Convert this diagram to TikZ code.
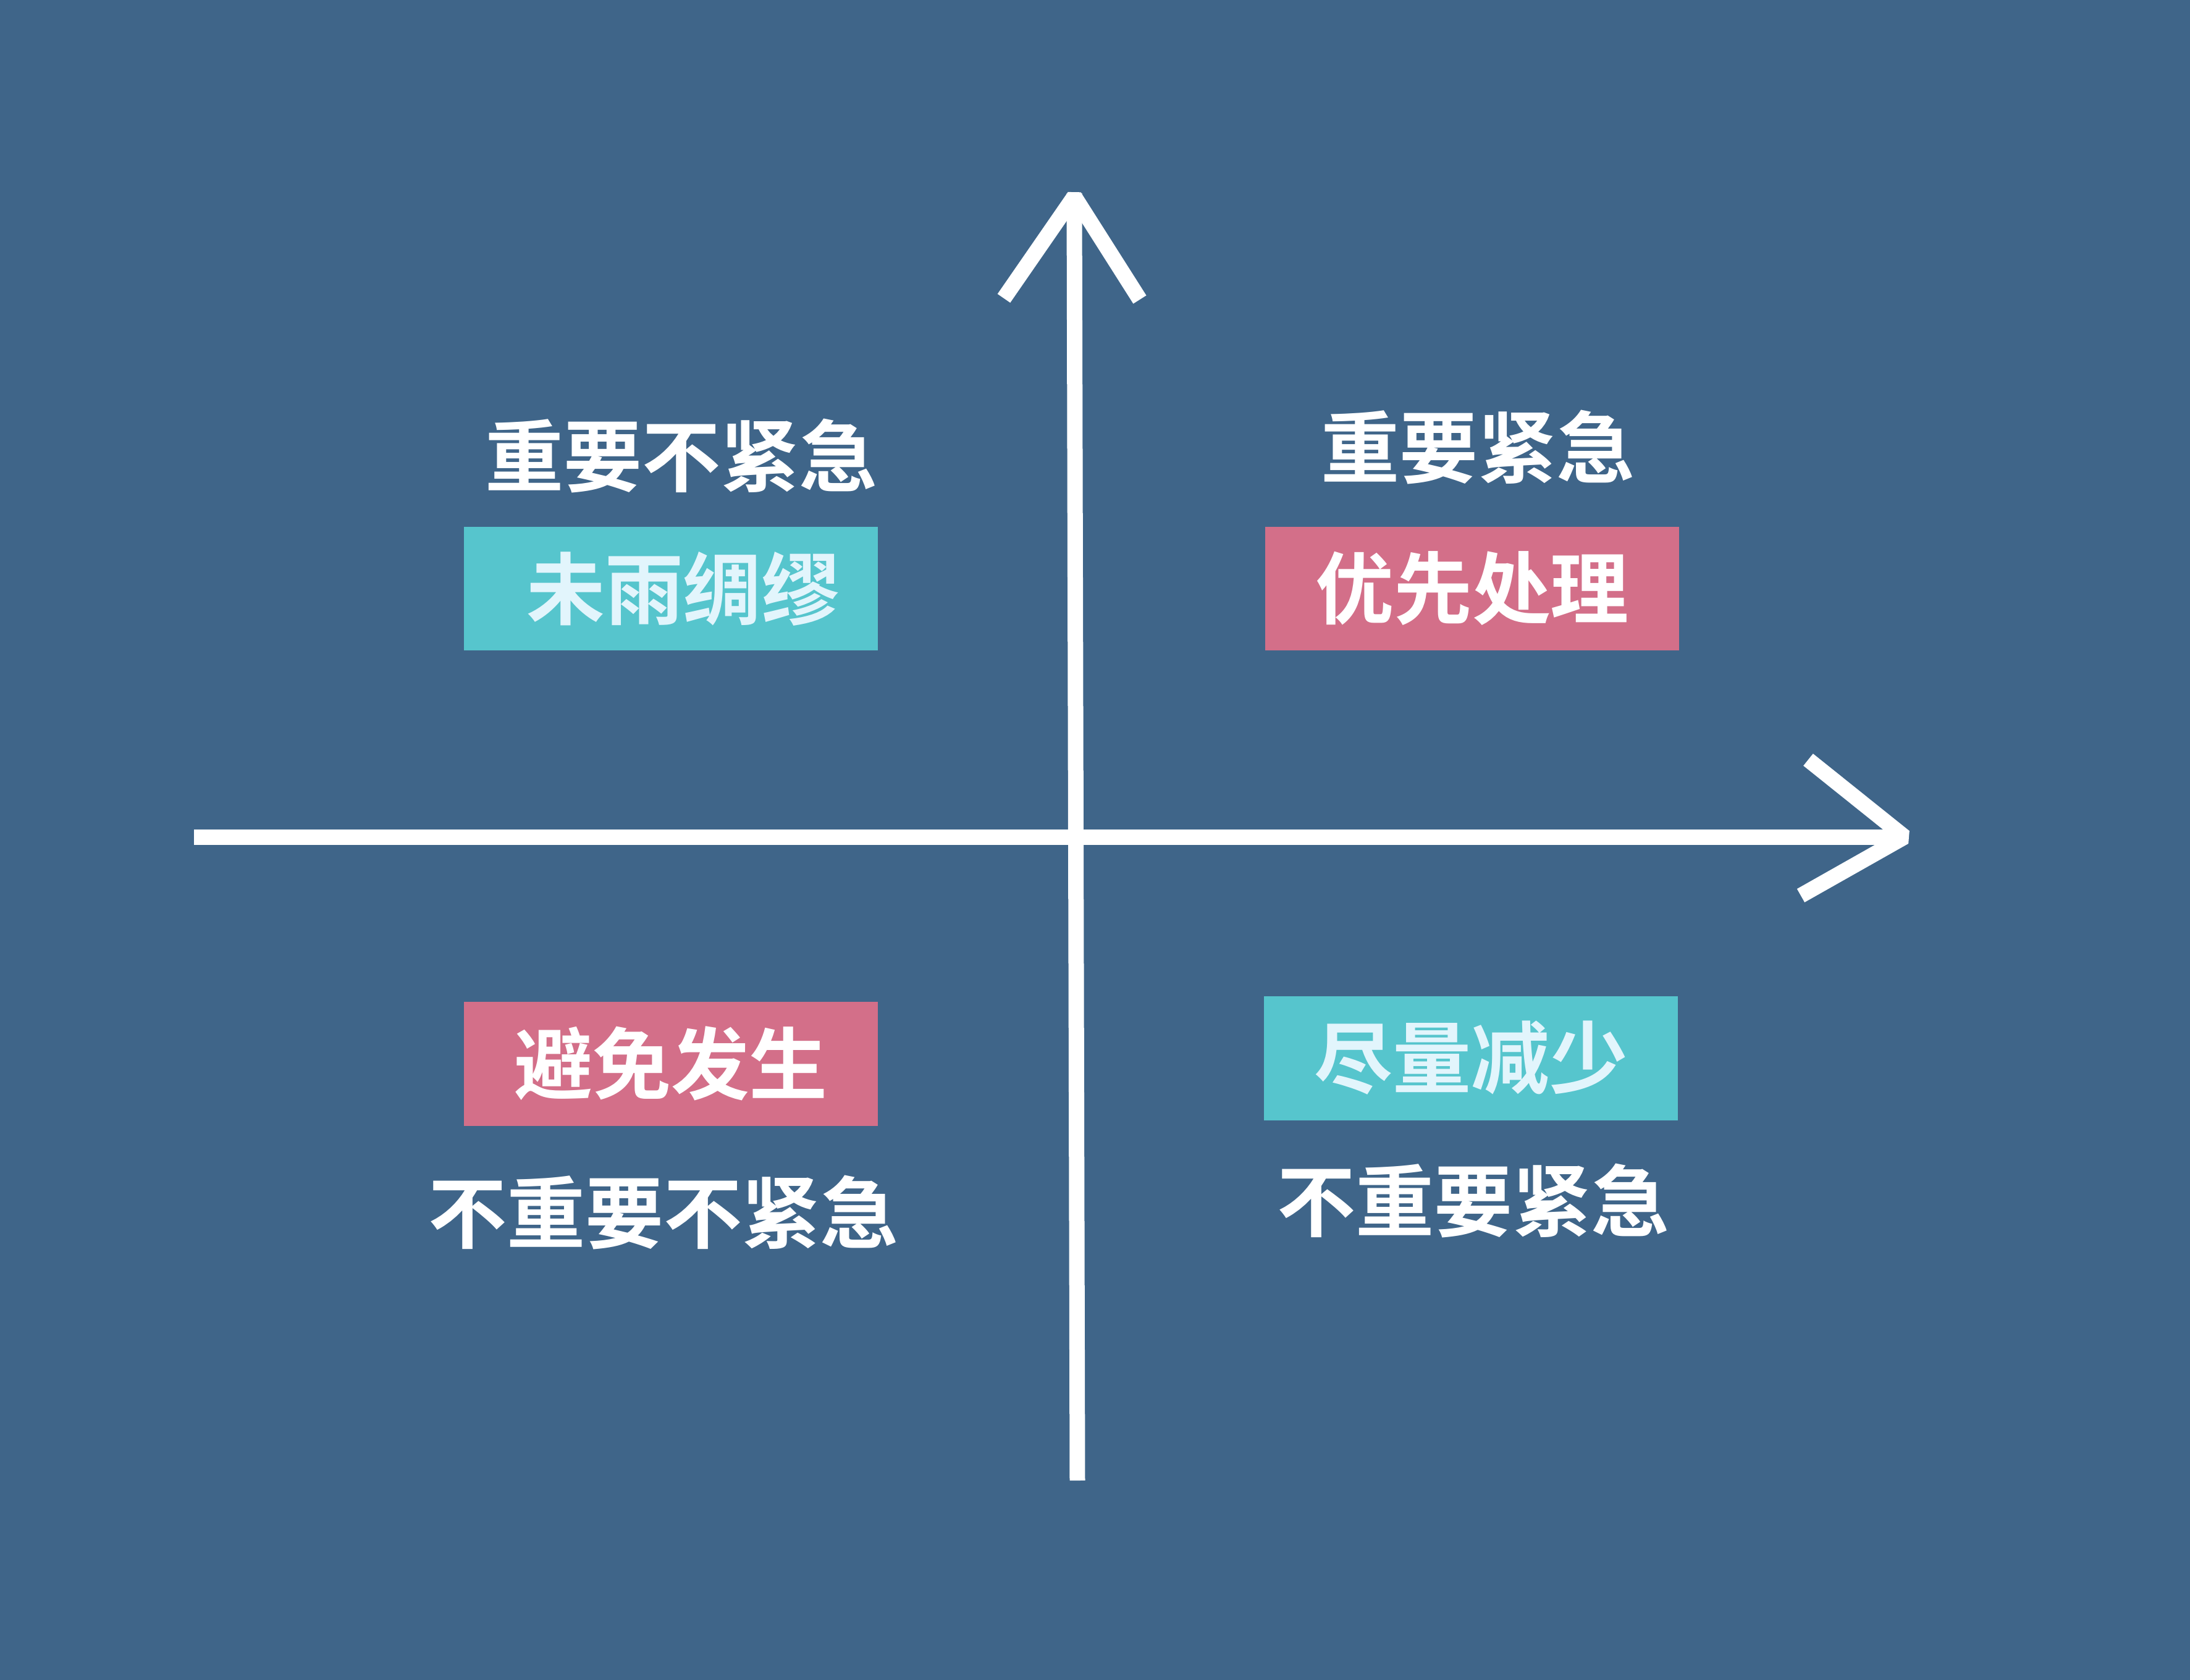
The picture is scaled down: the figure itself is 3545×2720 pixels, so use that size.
\documentclass[tikz,border=0pt]{standalone}
\usepackage{fontspec}
\newfontfamily\cjk{Noto Sans CJK SC}[BoldFont={Noto Sans CJK SC Bold}]
\definecolor{bgblue}{RGB}{63,101,137}
\definecolor{boxcyan}{RGB}{86,197,205}
\definecolor{boxpink}{RGB}{211,111,137}
\definecolor{lightcyan}{RGB}{226,245,252}
\begin{document}
\begin{tikzpicture}[x=0.1pt,y=-0.1pt,
  axisline/.style={draw=white,line width=2.5pt,line cap=butt,line join=bevel},
  lbl/.style={text=white,font=\cjk\bfseries\fontsize{12.7}{14}\selectfont,inner sep=0pt,anchor=center},
  tagbox/.style={minimum width=67pt,minimum height=20.1pt,inner sep=0pt,font=\cjk\bfseries\fontsize{12.7}{14}\selectfont,anchor=center}]
\fill[bgblue] (0,0) rectangle (3545,2720);
\useasboundingbox (0,0) rectangle (3545,2720);
% axes
\coordinate (xl) at (314,1355);
\coordinate (xr) at (3083,1355);
\coordinate (xa1) at (2927,1230);
\coordinate (xa2) at (2915,1450);
\coordinate (yb) at (1744,2397);
\coordinate (yt) at (1739,318);
\coordinate (ya1) at (1625,483);
\coordinate (ya2) at (1845,485);
\draw[axisline] (xl) -- (xr);
\draw[axisline] (xa1) -- (xr) -- (xa2);
\draw[axisline] (yb) -- (1739,313);
\draw[axisline] (ya1) -- (yt) -- (ya2);
% labels
\node[lbl] (l1) at (1103,738) {重要不紧急};
\node[lbl] (l2) at (2392,724) {重要紧急};
\node[lbl] (l3) at (1074,1963) {不重要不紧急};
\node[lbl] (l4) at (2385,1944) {不重要紧急};
% boxes
\node[tagbox,fill=boxcyan,text=lightcyan] (b1) at (1086,953) {\hspace*{4pt}未雨绸缪};
\node[tagbox,fill=boxpink,text=white] (b2) at (2383,953) {优先处理};
\node[tagbox,fill=boxpink,text=white] (b3) at (1086,1722) {避免发生};
\node[tagbox,fill=boxcyan,text=lightcyan] (b4) at (2381,1713) {尽量减少};
\end{tikzpicture}
\end{document}
